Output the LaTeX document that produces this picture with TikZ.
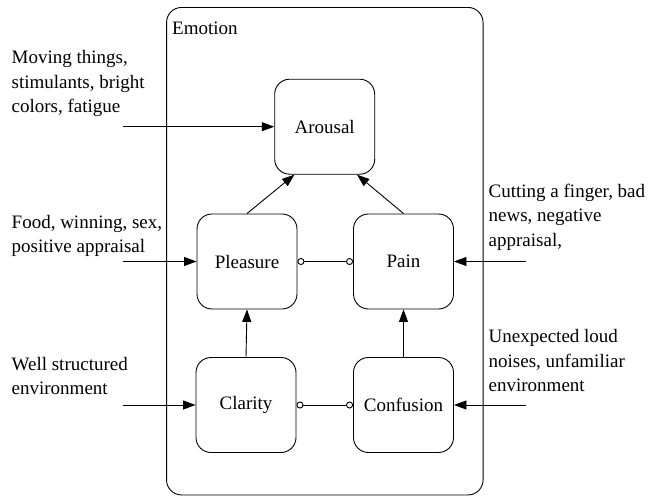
\documentclass[tikz,border=0pt]{standalone}
\usepackage{fontspec}
\setmainfont{Liberation Serif}
\usetikzlibrary{arrows.meta,calc}
\begin{document}
\begin{tikzpicture}[x=1pt,y=-1pt,
  txt/.style={font=\fontsize{19}{24.5}\selectfont, inner sep=0pt},
  state/.style={txt, draw, line width=0.9pt, rounded corners=15pt, minimum width=100pt, minimum height=95pt},
  ltext/.style={txt, align=left, anchor=south west, text depth=0pt},
  arr/.style={line width=0.9pt, -{Triangle[length=12.5pt,width=9pt]}},
  circ/.style={line width=0.9pt, {Circle[open,length=7pt,width=7pt]}-{Circle[open,length=7pt,width=7pt]}}]
\useasboundingbox (0,0) rectangle (649,498);

% container
\node[draw, line width=0.9pt, rounded corners=15pt, minimum width=316.5pt, minimum height=487.5pt, inner sep=0pt] (emotion) at (324.8,251.2) {};
\node[txt, anchor=base west] (emolabel) at (172,34) {Emotion};

% states
\node[state] (arousal) at (324.7,126.7) {Arousal};
\node[state] (pleasure) at (247,261.5) {Pleasure};
\node[state] (pain) at (403.5,261.5) {Pain};
\node[state] (clarity) at (246,405) {Clarity};
\node[state] (confusion) at (403.5,405) {Confusion};

% input texts
\node[ltext] (tA) at (11.5,113) {Moving things,\\stimulants, bright\\colors, fatigue};
\node[ltext] (tP) at (11.5,253) {Food, winning, sex,\\positive appraisal};
\node[ltext] (tC) at (11.5,395) {Well structured\\environment};
\node[ltext] (tN) at (488.5,246.5) {Cutting a finger, bad\\news, negative\\appraisal,};
\node[ltext] (tF) at (488.5,392) {Unexpected loud\\noises, unfamiliar\\environment};

% free ends of input arrows
\coordinate (inA) at (123,126.7);
\coordinate (inP) at (123,261.5);
\coordinate (inC) at (123,405);
\coordinate (inN) at (526,261.5);
\coordinate (inF) at (526,405);

\draw[arr] (inA) -- (arousal.west);
\draw[arr] (inP) -- (pleasure.west);
\draw[arr] (inC) -- (clarity.west);
\draw[arr] (inN) -- (pain.east);
\draw[arr] (inF) -- (confusion.east);

% internal connectors
\draw[arr] (pleasure.north) -- ($(arousal.south)!0.6!(arousal.south west)$);
\draw[arr] (pain.north) -- ($(arousal.south)!0.64!(arousal.south east)$);
\draw[arr] (clarity.north) -- (pleasure.south);
\draw[arr] (confusion.north) -- (pain.south);
\draw[circ] (pleasure.east) -- (pain.west);
\draw[circ] (clarity.east) -- (confusion.west);
\end{tikzpicture}
\end{document}
